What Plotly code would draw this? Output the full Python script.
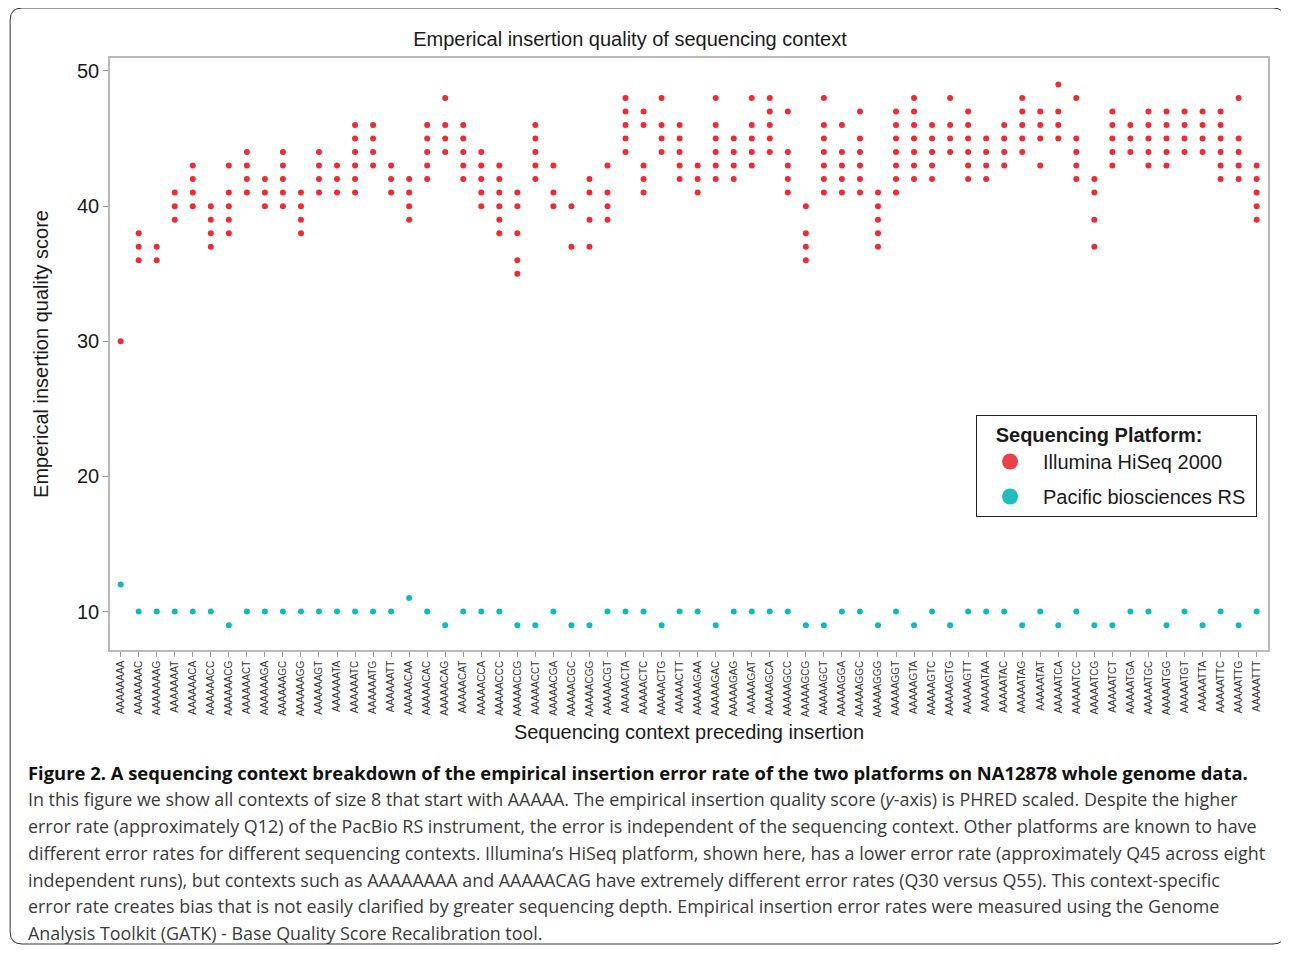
import plotly.graph_objects as go

contexts = [
    "AAAAAAAA", "AAAAAAAC", "AAAAAAAG", "AAAAAAAT", "AAAAAACA", "AAAAAACC", "AAAAAACG", "AAAAAACT",
    "AAAAAAGA", "AAAAAAGC", "AAAAAAGG", "AAAAAAGT", "AAAAAATA", "AAAAAATC", "AAAAAATG", "AAAAAATT",
    "AAAAACAA", "AAAAACAC", "AAAAACAG", "AAAAACAT", "AAAAACCA", "AAAAACCC", "AAAAACCG", "AAAAACCT",
    "AAAAACGA", "AAAAACGC", "AAAAACGG", "AAAAACGT", "AAAAACTA", "AAAAACTC", "AAAAACTG", "AAAAACTT",
    "AAAAAGAA", "AAAAAGAC", "AAAAAGAG", "AAAAAGAT", "AAAAAGCA", "AAAAAGCC", "AAAAAGCG", "AAAAAGCT",
    "AAAAAGGA", "AAAAAGGC", "AAAAAGGG", "AAAAAGGT", "AAAAAGTA", "AAAAAGTC", "AAAAAGTG", "AAAAAGTT",
    "AAAAATAA", "AAAAATAC", "AAAAATAG", "AAAAATAT", "AAAAATCA", "AAAAATCC", "AAAAATCG", "AAAAATCT",
    "AAAAATGA", "AAAAATGC", "AAAAATGG", "AAAAATGT", "AAAAATTA", "AAAAATTC", "AAAAATTG", "AAAAATTT",
]

# Illumina HiSeq 2000: distinct quality values observed per context (several runs)
illumina_scores = [
    [30], [38, 37, 36], [37, 36], [41, 40, 39], [43, 42, 41, 40], [40, 39, 38, 37],
    [43, 41, 40, 39, 38], [44, 43, 42, 41], [42, 41, 40], [44, 43, 42, 41, 40],
    [41, 40, 39, 38], [44, 43, 42, 41], [43, 42, 41], [46, 45, 44, 43, 42, 41],
    [46, 45, 44, 43], [43, 42, 41], [42, 41, 40, 39], [46, 45, 44, 43, 42],
    [48, 46, 45, 44], [46, 45, 44, 43, 42], [44, 43, 42, 41, 40], [43, 42, 41, 40, 39, 38],
    [41, 40, 38, 36, 35], [46, 45, 44, 43, 42], [43, 41, 40], [40, 37],
    [42, 41, 39, 37], [43, 41, 40, 39], [48, 47, 46, 45, 44], [47, 46, 43, 42, 41],
    [48, 46, 45, 44], [46, 45, 44, 43, 42], [43, 42, 41], [48, 46, 45, 44, 43, 42],
    [45, 44, 43, 42], [48, 46, 45, 44, 43], [48, 47, 46, 45, 44], [47, 44, 43, 42, 41],
    [40, 38, 37, 36], [48, 46, 45, 44, 43, 42, 41], [46, 44, 43, 42, 41], [47, 45, 44, 43, 42, 41],
    [41, 40, 39, 38, 37], [47, 46, 45, 44, 43, 42, 41], [48, 47, 46, 45, 44, 43, 42], [46, 45, 44, 43, 42],
    [48, 46, 45, 44], [47, 46, 45, 44, 43, 42], [45, 44, 43, 42], [46, 45, 44, 43],
    [48, 47, 46, 45, 44], [47, 46, 45, 43], [49, 47, 46, 45], [48, 45, 44, 43, 42],
    [42, 41, 39, 37], [47, 46, 45, 44, 43], [46, 45, 44], [47, 46, 45, 44, 43],
    [47, 46, 45, 44, 43], [47, 46, 45, 44], [47, 46, 45, 44], [47, 46, 45, 44, 43, 42],
    [48, 45, 44, 43, 42], [43, 42, 41, 40, 39],
]

# Pacific biosciences RS: one quality value per context
pacbio_scores = [
    12, 10, 10, 10, 10, 10, 9, 10, 10, 10, 10, 10, 10, 10, 10, 10,
    11, 10, 9, 10, 10, 10, 9, 9, 10, 9, 9, 10, 10, 10, 9, 10,
    10, 9, 10, 10, 10, 10, 9, 9, 10, 10, 9, 10, 9, 10, 9, 10,
    10, 10, 9, 10, 9, 10, 9, 9, 10, 10, 9, 10, 9, 10, 9, 10,
]

series_names = ["Illumina HiSeq 2000", "Pacific biosciences RS"]
series_colors = ["#EC2B36", "#13B9BA"]
legend_colors = ["#E8414A", "#1FBDBD"]

y_ticks = [10, 20, 30, 40, 50]

caption_title = ("Figure 2. A sequencing context breakdown of the empirical insertion error rate "
                 "of the two platforms on NA12878 whole genome data.")
caption_lines = [
    "In this figure we show all contexts of size 8 that start with AAAAA. The empirical insertion quality score (<i>y</i>-axis) is PHRED scaled. Despite the higher",
    "error rate (approximately Q12) of the PacBio RS instrument, the error is independent of the sequencing context. Other platforms are known to have",
    "different error rates for different sequencing contexts. Illumina\u2019s HiSeq platform, shown here, has a lower error rate (approximately Q45 across eight",
    "independent runs), but contexts such as AAAAAAAA and AAAAACAG have extremely different error rates (Q30 versus Q55). This context-specific",
    "error rate creates bias that is not easily clarified by greater sequencing depth. Empirical insertion error rates were measured using the Genome",
    "Analysis Toolkit (GATK) - Base Quality Score Recalibration tool.",
]

# ---- geometry (page pixels; the page body adds an 8px offset) ----
OFF = 8
W, H = 1289 - 2 * OFF, 953 - 2 * OFF
L, R, T, B = 110 - OFF, 1270 - OFF, 58 - OFF, 650 - OFF
pw, ph = R - L, B - T

def px(x):
    return (x - OFF - L) / pw

def py(y):
    return (B - (y - OFF)) / ph

ill_x, ill_y = [], []
for c, vals in zip(contexts, illumina_scores):
    for v in vals:
        ill_x.append(c)
        ill_y.append(v)

fig = go.Figure()
fig.add_trace(go.Scatter(x=ill_x, y=ill_y, mode="markers", showlegend=False,
                         marker=dict(size=6, color=series_colors[0]), name=series_names[0]))
fig.add_trace(go.Scatter(x=contexts, y=pacbio_scores, mode="markers", showlegend=False,
                         marker=dict(size=6, color=series_colors[1]), name=series_names[1]))
legend_labels = ["Illumina HiSeq 2000", "Pacific biosciences RS&nbsp;"]
for i, (name, col) in enumerate(zip(legend_labels, legend_colors)):
    fig.add_trace(go.Scatter(x=[None], y=[None], mode="markers", name=name,
                             legendgroup=f"g{i}",
                             marker=dict(size=16, color=col)))

font_main = "Liberation Sans, Arial, sans-serif"

fig.update_layout(
    width=W, height=H,
    margin=dict(l=L, r=W - R, t=T, b=H - B),
    paper_bgcolor="white", plot_bgcolor="white",
    font=dict(family=font_main, color="#1a1a1a", size=20),
    title=dict(text="Emperical insertion quality of sequencing context",
               xref="container", x=(630 - OFF) / W, xanchor="center",
               yref="container", y=1 - (39 - OFF) / H, yanchor="middle",
               font=dict(size=20, color="#1a1a1a")),
    showlegend=True,
    legend=dict(
        title=dict(text="&nbsp;&nbsp;&nbsp;<b>Sequencing Platform:</b>",
                   font=dict(size=20, color="#1a1a1a")),
        x=px(1259), xanchor="right", y=py(415), yanchor="top",
        bordercolor="#222222", borderwidth=1, bgcolor="white",
        font=dict(size=20, color="#1a1a1a"),
        itemsizing="trace", itemwidth=56, tracegroupgap=6,
    ),
)

fig.update_xaxes(
    type="category", categoryorder="array", categoryarray=contexts,
    range=[-0.59, 63.63], tickangle=-90,
    tickfont=dict(size=10, color="#333333", family=font_main),
    ticks="outside", ticklen=5, tickcolor="#999999",
    showline=True, linecolor="#b8b8b8", linewidth=1.5, mirror=True,
    showgrid=False, zeroline=False,
    title=dict(text="Sequencing context preceding insertion", standoff=9,
               font=dict(size=20, color="#1a1a1a")),
)
fig.update_yaxes(
    range=[7.16, 50.96], tickvals=y_ticks,
    tickfont=dict(size=20, color="#1a1a1a"),
    ticks="outside", ticklen=5, tickcolor="#999999",
    showline=True, linecolor="#b8b8b8", linewidth=1.5, mirror=True,
    showgrid=False, zeroline=False,
    title=dict(text="Emperical insertion quality score", standoff=23,
               font=dict(size=20, color="#1a1a1a")),
)

# caption
cap_font = "Open Sans, Noto Sans, sans-serif"
fig.add_annotation(text="<b>" + caption_title + "</b>", xref="paper", yref="paper",
                   x=px(26), y=py(772), xanchor="left", yanchor="middle", showarrow=False,
                   font=dict(family=cap_font, size=18.4, color="#111111"))
line_y = [799, 826, 853, 880, 906, 933]
for txt, yy in zip(caption_lines, line_y):
    fig.add_annotation(text=txt, xref="paper", yref="paper",
                       x=px(26), y=py(yy), xanchor="left", yanchor="middle", showarrow=False,
                       font=dict(family=cap_font, size=17.9, color="#3a3a3a"))

# outer rounded frame of the figure panel
x0, x1, y0, y1, r = px(10), px(1287), py(8), py(944), 12
rx, ry = r / pw, r / ph
path = (f"M {x0+rx},{y0} L {x1-rx},{y0} Q {x1},{y0} {x1},{y0-ry} "
        f"L {x1},{y1+ry} Q {x1},{y1} {x1-rx},{y1} L {x0+rx},{y1} Q {x0},{y1} {x0},{y1+ry} "
        f"L {x0},{y0-ry} Q {x0},{y0} {x0+rx},{y0} Z")
fig.add_shape(type="path", path=path, xref="paper", yref="paper",
              line=dict(color="#333333", width=1), layer="below")

fig.write_html("out.html")
